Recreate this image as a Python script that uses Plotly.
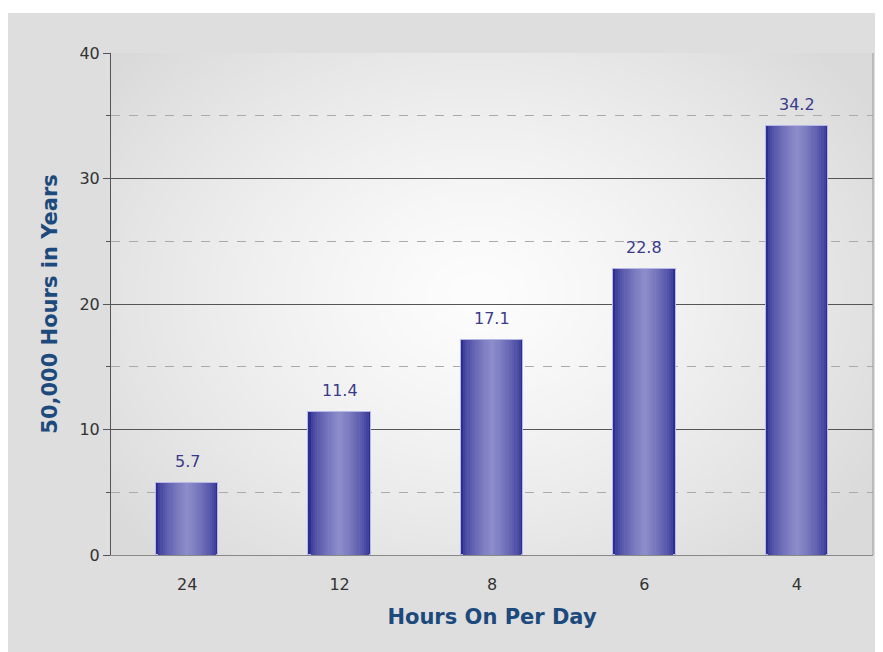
import base64
import struct
import zlib

import numpy as np
import plotly.graph_objects as go

# dados
horas_por_dia = ["24", "12", "8", "6", "4"]
anos_50000h = [5.7, 11.4, 17.1, 22.8, 34.2]
rotulos = ["5.7", "11.4", "17.1", "22.8", "34.2"]
y_ticks = [0, 10, 20, 30, 40]


def png_data_uri(arr):
    # codifica um array (h, w, 3) uint8 em PNG base64 sem PIL
    h, w, _ = arr.shape
    raw = b"".join(b"\x00" + arr[i].tobytes() for i in range(h))

    def chunk(tag, data):
        c = struct.pack(">I", len(data)) + tag + data
        return c + struct.pack(">I", zlib.crc32(tag + data) & 0xFFFFFFFF)

    png = b"\x89PNG\r\n\x1a\n"
    png += chunk(b"IHDR", struct.pack(">IIBBBBB", w, h, 8, 2, 0, 0, 0))
    png += chunk(b"IDAT", zlib.compress(raw, 9))
    png += chunk(b"IEND", b"")
    return "data:image/png;base64," + base64.b64encode(png).decode()


# fundo com gradiente radial (claro no centro, cinza nas bordas)
W, H = 380, 250
yy, xx = np.mgrid[0:H, 0:W]
d = np.sqrt(((xx - W * 0.48) / (W * 0.62)) ** 2 + ((yy - H * 0.48) / (H * 0.72)) ** 2)
d = np.clip(d, 0, 1) ** 1.3
v = (253 - (253 - 218) * d).astype(np.uint8)
fundo = np.dstack([v, v, v])
painel = np.full((4, 4, 3), 222, dtype=np.uint8)

fig = go.Figure()

# barras com gradiente horizontal: sobreposição de barras cada vez mais estreitas
escuro = np.array([44, 46, 145])
claro = np.array([140, 140, 202])
n = 14
largura = 0.41
for k in range(n):
    t = (k / (n - 1)) ** 0.6
    cor = (escuro + (claro - escuro) * t).astype(int)
    w = largura * (1 - k / n)
    fig.add_trace(go.Bar(
        x=horas_por_dia,
        y=anos_50000h,
        width=w,
        marker=dict(
            color=f"rgb({cor[0]},{cor[1]},{cor[2]})",
            line=dict(color="#b8b8e8", width=1) if k == 0 else dict(width=0),
        ),
        showlegend=False,
        hoverinfo="skip" if k else None,
    ))

# rótulos de valor acima das barras (x = índice da categoria)
for i, (val, txt) in enumerate(zip(anos_50000h, rotulos)):
    fig.add_annotation(
        x=i, y=val, text=txt, showarrow=False, yanchor="bottom", yshift=10,
        font=dict(family="DejaVu Sans", size=16, color="#3a3a8a"),
    )

# a página tem 8px de margem no body: figura 875x644
fig.update_layout(
    width=875,
    height=644,
    barmode="overlay",
    bargap=0,
    paper_bgcolor="white",
    plot_bgcolor="rgba(0,0,0,0)",
    margin=dict(l=103, r=10, t=45, b=97),
    font=dict(family="DejaVu Sans", size=16, color="#333333"),
    xaxis=dict(
        type="category",
        categoryorder="array",
        categoryarray=horas_por_dia,
        range=[-0.5, len(horas_por_dia) - 0.5],
        showgrid=False,
        showline=True,
        linecolor="#888888",
        linewidth=1,
        ticks="",
        ticklabelstandoff=15,
        tickfont=dict(size=16, color="#333333"),
        title=dict(text="<b>Hours On Per Day</b>", standoff=16,
                   font=dict(family="DejaVu Sans", size=21, color="#1d4a7c")),
        zeroline=False,
    ),
    yaxis=dict(
        range=[0, 40],
        tickvals=y_ticks,
        showgrid=True,
        gridcolor="#555555",
        gridwidth=1,
        showline=True,
        linecolor="#555555",
        linewidth=1,
        ticks="outside",
        ticklen=7,
        tickcolor="#555555",
        tickfont=dict(size=16, color="#333333"),
        minor=dict(dtick=5, showgrid=True, gridcolor="#aaaaaa", griddash="dash",
                   ticks="outside", ticklen=4, tickcolor="#555555"),
        zeroline=False,
        title=dict(text="<b>50,000 Hours in Years</b>", standoff=16,
                   font=dict(family="DejaVu Sans", size=21, color="#1d4a7c")),
    ),
    images=[
        # painel cinza atrás do gráfico
        dict(source=png_data_uri(painel), xref="paper", yref="paper",
             x=-0.1352, y=1.0797, sizex=1.1418, sizey=1.2797,
             xanchor="left", yanchor="top", sizing="stretch", layer="below"),
        # gradiente da área do gráfico
        dict(source=png_data_uri(fundo), xref="paper", yref="paper",
             x=0, y=1, sizex=1, sizey=1, xanchor="left", yanchor="top",
             sizing="stretch", layer="below"),
    ],
    shapes=[
        # borda direita da área do gráfico
        dict(type="line", xref="paper", yref="paper", x0=1, x1=1, y0=0, y1=1,
             line=dict(color="#999999", width=1)),
    ],
)

fig.write_html("out.html")
